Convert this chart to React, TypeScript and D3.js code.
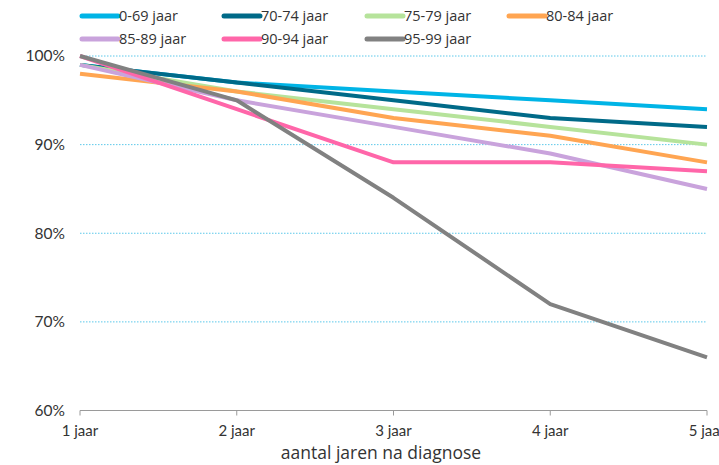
import React from "react";
import * as d3 from "d3";

const categories = ["1 jaar", "2 jaar", "3 jaar", "4 jaar", "5 jaar"];
const seriesNames = ["0-69 jaar", "70-74 jaar", "75-79 jaar", "80-84 jaar", "85-89 jaar", "90-94 jaar", "95-99 jaar"];
const seriesColors = ["#00b4e6", "#006a88", "#b6e39b", "#ffa552", "#c9a3dc", "#ff66a9", "#818181"];
const s0_69 = [99, 97, 96, 95, 94];
const s70_74 = [99, 97, 95, 93, 92];
const s75_79 = [99, 96, 94, 92, 90];
const s80_84 = [98, 96, 93, 91, 88];
const s85_89 = [99, 95, 92, 89, 85];
const s90_94 = [100, 94, 88, 88, 87];
const s95_99 = [100, 95, 84, 72, 66];
const seriesValues = [s0_69, s70_74, s75_79, s80_84, s85_89, s90_94, s95_99];
const yTicks = [60, 70, 80, 90, 100];

export default function App() {
  const W = 719, H = 465;
  const x = d3.scalePoint<string>().domain(categories).range([80, 707]);
  const y = d3.scaleLinear().domain([60, 100]).range([410.5, 56]);
  const line = d3
    .line<number>()
    .x((_, i) => x(categories[i]) as number)
    .y((d) => y(d));
  const tickFont = "Lato, sans-serif";
  const textFont = "'Open Sans', sans-serif";
  const legendCols = [82, 224, 367, 509];
  const legendRows = [16, 39];

  return (
    <svg width={W} height={H} style={{ position: "absolute", left: 0, top: 0, background: "#fff" }}>
      {yTicks.filter((t) => t !== 60).map((t) => (
        <line key={t} x1={80} x2={707} y1={y(t)} y2={y(t)} stroke="#5cc8ea" strokeWidth={1} strokeDasharray="1.5 1.5" />
      ))}
      {yTicks.map((t) => (
        <text key={"l" + t} x={65} y={y(t)} dy="0.35em" textAnchor="end" fontSize={15.5} fill="#333" fontFamily={tickFont}>
          {t}%
        </text>
      ))}
      <line x1={80} x2={707} y1={y(60)} y2={y(60)} stroke="#9a9a9a" strokeWidth={1} />
      {categories.map((c) => (
        <g key={c}>
          <line x1={x(c)} x2={x(c)} y1={y(60)} y2={y(60) + 5} stroke="#9a9a9a" strokeWidth={1} />
          <text x={x(c)} y={436} textAnchor="middle" fontSize={15} fill="#333" fontFamily={tickFont}>
            {c}
          </text>
        </g>
      ))}
      <text x={381} y={458.5} textAnchor="middle" fontSize={17.5} fill="#333" fontFamily={textFont}>
        aantal jaren na diagnose
      </text>
      {seriesValues.map((vals, i) => (
        <path key={seriesNames[i]} d={line(vals) || ""} fill="none" stroke={seriesColors[i]} strokeWidth={4} strokeLinejoin="round" />
      ))}
      {seriesNames.map((name, i) => {
        const col = i < 4 ? i : i - 4;
        const row = i < 4 ? 0 : 1;
        const lx = legendCols[col];
        const ly = legendRows[row];
        return (
          <g key={"lg" + name}>
            <line x1={lx} x2={lx + 36} y1={ly} y2={ly} stroke={seriesColors[i]} strokeWidth={5} strokeLinecap="round" />
            <text x={lx + 37} y={ly} dy="0.35em" fontSize={14.5} fill="#333" fontFamily={textFont}>
              {name}
            </text>
          </g>
        );
      })}
    </svg>
  );
}
